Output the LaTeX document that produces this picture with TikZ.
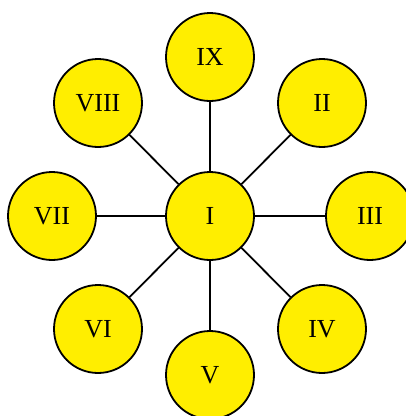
\documentclass[tikz,border=0pt]{standalone}
\usepackage{fontspec}
\setmainfont{Liberation Serif}
\definecolor{nodeyellow}{RGB}{255,238,0}
\begin{document}
\begin{tikzpicture}[x=1pt,y=-1pt,
  circ/.style={circle,draw=black,line width=1.8pt,fill=nodeyellow,minimum size=88pt,inner sep=0pt,font=\fontsize{26}{28}\selectfont},
  edge/.style={line width=1.8pt}]
\useasboundingbox (0,0) rectangle (406,416);
\clip (0,0) rectangle (406,416);
\node[circ] (I) at (210,216) {I};
\node[circ] (IX) at (210,57) {IX};
\node[circ] (II) at (322,103) {II};
\node[circ] (III) at (370,216) {III};
\node[circ] (IV) at (322,329) {IV};
\node[circ] (V) at (210,375) {V};
\node[circ] (VI) at (98,329) {VI};
\node[circ] (VII) at (52,216) {VII};
\node[circ] (VIII) at (98,103) {VIII};
\foreach \n in {IX,II,III,IV,V,VI,VII,VIII}
  \draw[edge] (I) -- (\n);
\end{tikzpicture}
\end{document}
